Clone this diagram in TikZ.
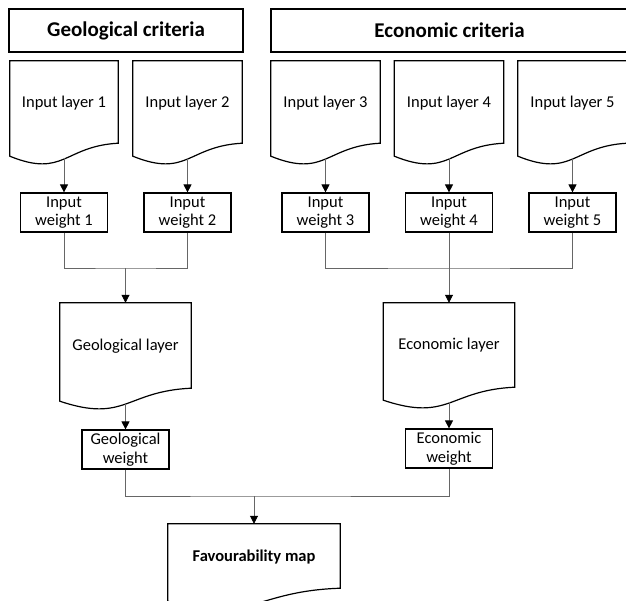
\documentclass[tikz,border=0pt]{standalone}
\usepackage{fontspec}
\setmainfont{Carlito}
\usetikzlibrary{arrows.meta,calc}
\tikzset{
  shp/.style={draw=black, line width=1.2pt},
  ttl/.style={shp, rectangle, minimum height=43pt, inner sep=0pt, font=\fontsize{21}{25}\selectfont\bfseries},
  docnode/.style={rectangle, inner sep=0pt},
  doctext/.style={font=\fontsize{16.5}{19}\selectfont},
  wbox/.style={shp, rectangle, minimum width=87pt, minimum height=39pt, inner sep=0pt, align=center, font=\fontsize{16.5}{18.5}\selectfont},
  conn/.style={draw=black!60, line width=0.8pt},
  arr/.style={conn, -{Triangle[length=8pt,width=8pt,color=black]}},
}
\newcommand\docoutline[1]{%
  \draw[shp, line join=miter] ([yshift=2pt]#1.south west) -- (#1.north west) -- (#1.north east) -- ([yshift=15pt]#1.south east)
    .. controls ([yshift=12pt]#1.south) and ([yshift=-20pt]#1.south) .. ([yshift=2pt]#1.south west) -- cycle;}
\begin{document}
\begin{tikzpicture}[x=1pt,y=-1pt]
\useasboundingbox (0,0) rectangle (626,600);

% titles
\node[ttl, minimum width=234pt] (gc) at (126,30.5) {Geological criteria};
\node[ttl, minimum width=357pt] (ec) at (449.5,30.5) {Economic criteria};

% input layers
\node[docnode, minimum width=108pt, minimum height=97pt] (l1) at (64,109.5) {};
\node[docnode, minimum width=109pt, minimum height=97pt] (l2) at (187.5,109.5) {};
\node[docnode, minimum width=109pt, minimum height=97pt] (l3) at (325.5,109.5) {};
\node[docnode, minimum width=109pt, minimum height=97pt] (l4) at (449,109.5) {};
\node[docnode, minimum width=109pt, minimum height=97pt] (l5) at (572.5,109.5) {};
\docoutline{l1}\docoutline{l2}\docoutline{l3}\docoutline{l4}\docoutline{l5}
\node[doctext] (l1t) at ([yshift=-42pt]l1.north) {Input layer 1};
\node[doctext] (l2t) at ([yshift=-42pt]l2.north) {Input layer 2};
\node[doctext] (l3t) at ([yshift=-42pt]l3.north) {Input layer 3};
\node[doctext] (l4t) at ([yshift=-42pt]l4.north) {Input layer 4};
\node[doctext] (l5t) at ([yshift=-42pt]l5.north) {Input layer 5};

% input weights
\node[wbox] (w1) at (64,212.5) {Input\\weight 1};
\node[wbox] (w2) at (187.5,212.5) {Input\\weight 2};
\node[wbox] (w3) at (325.5,212.5) {Input\\weight 3};
\node[wbox] (w4) at (449,212.5) {Input\\weight 4};
\node[wbox] (w5) at (572.5,212.5) {Input\\weight 5};

% combined layers
\node[docnode, minimum width=131pt, minimum height=100pt] (geo) at (125.5,353) {};
\node[docnode, minimum width=131pt, minimum height=99pt] (eco) at (449,352.5) {};
\docoutline{geo}\docoutline{eco}
\node[doctext] (geot) at ([yshift=-43pt]geo.north) {Geological layer};
\node[doctext] (ecot) at ([yshift=-42pt]eco.north) {Economic layer};

\node[wbox] (gw) at (125.5,449.5) {Geological\\weight};
\node[wbox] (ew) at (449,448.5) {Economic\\weight};

% favourability
\node[docnode, minimum width=172pt, minimum height=79pt] (fav) at (254,563.5) {};
\docoutline{fav}
\node[doctext, font=\fontsize{16.5}{19}\selectfont\bfseries] (favt) at ([yshift=-33pt]fav.north) {Favourability map};

% junctions
\coordinate (j1) at (125.5,268);
\coordinate (j2) at (449,268);
\coordinate (j3) at (254,496);

% connectors
\draw[arr] (l1.south) -- (w1.north);
\draw[arr] (l2.south) -- (w2.north);
\draw[arr] (l3.south) -- (w3.north);
\draw[arr] (l4.south) -- (w4.north);
\draw[arr] (l5.south) -- (w5.north);

\draw[conn] (w1.south) |- (j1) -| (w2.south);
\draw[arr] (j1) -- (geo.north);
\draw[conn] (w3.south) |- (j2) -| (w5.south);
\draw[conn] (w4.south) -- (j2);
\draw[arr] (j2) -- (eco.north);

\draw[arr] (geo.south) -- (gw.north);
\draw[arr] (eco.south) -- (ew.north);

\draw[conn] (gw.south) |- (j3) -| (ew.south);
\draw[arr] (j3) -- (fav.north);
\end{tikzpicture}
\end{document}
